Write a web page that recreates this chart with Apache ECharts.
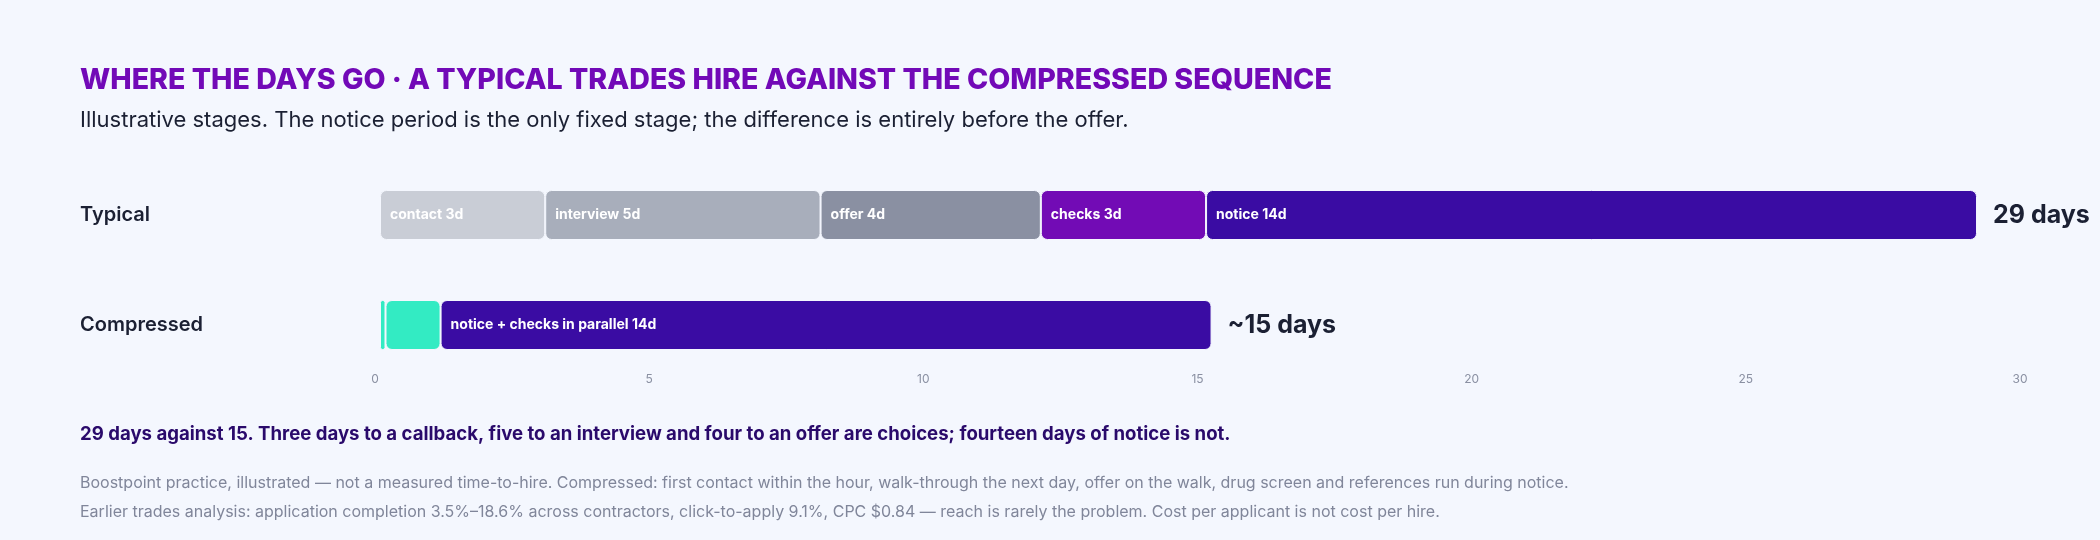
<!DOCTYPE html>
<html>
<head>
<meta charset="utf-8">
<script src="https://cdn.jsdelivr.net/npm/echarts@6/dist/echarts.min.js"></script>
<style>
  html, body { margin: 0; padding: 0; background: #F4F7FE; }
  #chart { width: 2100px; height: 540px; }
</style>
</head>
<body>
<div id="chart"></div>
<script>
// ---- data ----
const rows = ['Typical', 'Compressed'];
const typicalStages = ['contact', 'interview', 'offer', 'checks', 'notice'];
const typicalDays = [3, 5, 4, 3, 14];
const compressedStages = ['first contact', 'walk-through + offer', 'notice + checks in parallel'];
const compressedDays = [0.1, 1, 14];
const compressedLabelShown = [false, false, true];
const totalLabels = ['29 days', '~15 days'];
const axisMin = 0, axisMax = 30, axisStep = 5;

const titleText = 'WHERE THE DAYS GO · A TYPICAL TRADES HIRE AGAINST THE COMPRESSED SEQUENCE';
const subtitleText = 'Illustrative stages. The notice period is the only fixed stage; the difference is entirely before the offer.';
const takeawayText = '29 days against 15. Three days to a callback, five to an interview and four to an offer are choices; fourteen days of notice is not.';
const note1 = 'Boostpoint practice, illustrated — not a measured time-to-hire. Compressed: first contact within the hour, walk-through the next day, offer on the walk, drug screen and references run during notice.';
const note2 = 'Earlier trades analysis: application completion 3.5%–18.6% across contractors, click-to-apply 9.1%, CPC $0.84 — reach is rarely the problem. Cost per applicant is not cost per hire.';

// ---- styles ----
const BG = '#F4F7FE';
const FONT = 'Inter, "Noto Sans", sans-serif';
const typicalColors = ['#C9CDD6', '#A8AEBB', '#8A90A2', '#720BB5', '#3A0CA3'];
const compressedColors = ['#33EBC3', '#33EBC3', '#3A0CA3'];

const series = [];
typicalStages.forEach((name, i) => {
  series.push({
    type: 'bar', name, stack: 'days', barWidth: 50,
    xAxisIndex: 0, yAxisIndex: 0,
    data: [typicalDays[i], '-'],
    itemStyle: { color: typicalColors[i], borderRadius: 6, borderColor: BG, borderWidth: 1 },
    label: {
      show: true, position: 'insideLeft', distance: 10,
      formatter: () => name + ' ' + typicalDays[i] + 'd',
      color: '#FFFFFF', fontFamily: FONT, fontWeight: 700, fontSize: 14
    }
  });
});
compressedStages.forEach((name, i) => {
  series.push({
    type: 'bar', name, stack: 'days', barWidth: 50,
    xAxisIndex: 0, yAxisIndex: 0,
    data: ['-', compressedDays[i]],
    itemStyle: { color: compressedColors[i], borderRadius: i === 0 ? 2 : 6, borderColor: BG, borderWidth: 1 },
    label: {
      show: compressedLabelShown[i], position: 'insideLeft', distance: 10,
      formatter: () => name + ' ' + compressedDays[i] + 'd',
      color: '#FFFFFF', fontFamily: FONT, fontWeight: 700, fontSize: 14
    }
  });
});
const totals = [
  typicalDays.reduce((a, b) => a + b, 0),
  compressedDays.reduce((a, b) => a + b, 0)
];
series.push({
  type: 'scatter', xAxisIndex: 0, yAxisIndex: 0,
  symbolSize: 0, itemStyle: { color: BG, opacity: 1 },
  data: rows.map((r, i) => [totals[i], r]),
  label: {
    show: true, position: 'right', distance: 16, opacity: 1,
    formatter: p => totalLabels[p.dataIndex],
    color: '#1B2033', fontFamily: FONT, fontWeight: 700, fontSize: 25
  },
  silent: true
});

const chart = echarts.init(document.getElementById('chart'), null, { renderer: 'canvas' });
chart.setOption({
  backgroundColor: BG,
  animation: false,
  title: [
    { text: titleText, left: 80, top: 66, padding: 0,
      textStyle: { color: '#7209B7', fontFamily: FONT, fontWeight: 800, fontSize: 28.6 } },
    { text: subtitleText, left: 80, top: 109, padding: 0,
      textStyle: { color: '#1B2033', fontFamily: FONT, fontWeight: 400, fontSize: 22 } },
    { text: takeawayText, left: 80, top: 425, padding: 0,
      textStyle: { color: '#2A0A6B', fontFamily: FONT, fontWeight: 700, fontSize: 18.6 } },
    { text: note1, left: 80, top: 475, padding: 0,
      textStyle: { color: '#80869A', fontFamily: FONT, fontWeight: 400, fontSize: 16 } },
    { text: note2, left: 80, top: 504, padding: 0,
      textStyle: { color: '#80869A', fontFamily: FONT, fontWeight: 400, fontSize: 16 } }
  ],
  grid: [
    { left: 380, right: 2100 - (380 + 30 * 55.07), top: 160, height: 220 },
    { left: 375, width: 1645, top: 364, height: 1 }
  ],
  xAxis: [
    { gridIndex: 0, type: 'value', min: axisMin, max: axisMax, interval: axisStep,
      axisLine: { show: false }, axisTick: { show: false }, splitLine: { show: false },
      axisLabel: { show: false } },
    { gridIndex: 1, type: 'value', min: axisMin, max: axisMax, interval: axisStep,
      position: 'bottom',
      axisLine: { show: false }, axisTick: { show: false }, splitLine: { show: false },
      axisLabel: { show: true, margin: 8, color: '#8A90A2', fontFamily: FONT, fontSize: 12 } }
  ],
  yAxis: [
    { gridIndex: 0, type: 'category', data: rows, inverse: true,
      axisLine: { show: false }, axisTick: { show: false },
      axisLabel: { align: 'left', margin: 300, color: '#1B2033', fontFamily: FONT, fontWeight: 600, fontSize: 20 } },
    { gridIndex: 1, type: 'category', data: [''], show: false }
  ],
  series
});
</script>
</body>
</html>
